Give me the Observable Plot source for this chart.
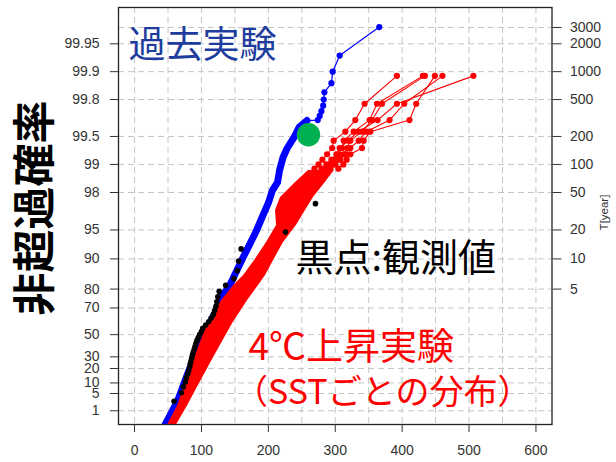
<!DOCTYPE html>
<html><head><meta charset="utf-8">
<script src="https://cdn.jsdelivr.net/npm/d3@7"></script>
<script src="https://cdn.jsdelivr.net/npm/@observablehq/plot@0.6"></script>
<style>
html,body{margin:0;padding:0;background:#fff;}
#chart svg{display:block;}
</style></head><body><div id="chart"></div>
<script>
// ---- axis ticks ----
const xTicks = [0, 100, 200, 300, 400, 500, 600];
const xGridValues = [0, 50, 100, 150, 200, 250, 300, 350, 400, 450, 500, 550, 600];
const leftTickP = [1, 5, 10, 20, 30, 50, 70, 80, 90, 95, 98, 99, 99.5, 99.8, 99.9, 99.95];
const leftTickLabels = ["1","5","10","20","30","50","70","80","90","95","98","99","99.5","99.8","99.9","99.95"];
const rightTickT = [5, 10, 20, 50, 100, 200, 500, 1000, 2000, 3000];
const rightTickLabels = ["5","10","20","50","100","200","500","1000","2000","3000"];

// ---- past experiment (blue): non-exceedance probability [%] and value ----
const blueDenseP = [0.0065, 0.181, 2.831, 16.197, 37.597, 57.574, 66.4, 75.431, 81.535, 90.099, 94.682, 97.445, 98.096, 98.438, 98.838, 99.158, 99.326, 99.487, 99.600, 99.663];
const blueDenseX = [33.3, 46.7, 64.6, 79.5, 94.4, 110.8, 119.8, 128.8, 142.1, 161.5, 180.9, 200.3, 206.0, 213.7, 216.7, 221.9, 227.9, 238.3, 245.8, 257.7];
const blueTailP = [99.667, 99.700, 99.733, 99.767, 99.800, 99.833, 99.867, 99.900, 99.933, 99.967];
const blueTailX = [273.8, 276.8, 279.3, 281.9, 282.8, 283.8, 294.3, 296.2, 306.6, 365.8];

// ---- +4K experiment (red): dense band edges ----
const redBandP  = [98.838, 98.438, 97.739, 96.890, 95.516, 93.237, 89.618, 85.287, 81.535, 74.348, 59.146, 29.445, 6.213, 1.769, 0.154, 0.0065];
const redBandLo = [260.0, 240.6, 218.2, 210.7, 212.2, 197.3, 179.4, 163.0, 148.1, 130.2, 109.3, 89.9, 72.0, 64.6, 49.7, 39.3];
const redBandHi = [298.7, 285.2, 267.4, 255.5, 241.9, 222.7, 207.8, 195.8, 185.3, 169.0, 146.6, 118.2, 91.4, 79.5, 63.1, 55.6];
// upper tails, one per SST pattern
const redTailP = [99.889, 99.778, 99.667, 99.556, 99.445, 99.334, 99.223, 99.112, 99.001, 98.890];
const redSST1 = [392.2, 343.9, 330.0, 315.1, 297.7, 295.3, 287.8, 280.8, 274.9, 268.9];
const redSST2 = [431.0, 362.4, 351.4, 327.5, 312.6, 310.2, 305.1, 298.7, 291.3, 283.8];
const redSST3 = [434.0, 369.9, 355.0, 340.0, 322.6, 317.7, 312.2, 304.7, 297.2, 289.8];
const redSST4 = [448.9, 421.0, 411.0, 352.4, 342.4, 340.0, 322.6, 317.1, 312.2, 304.7];
const redSST5 = [460.2, 403.1, 381.2, 346.5, 335.0, 322.6, 315.1, 307.7, 300.2, 292.8];
const redSST6 = [506.5, 392.2, 363.3, 334.5, 319.6, 306.6, 301.7, 294.3, 286.8, 279.3];

// ---- observations (black) ----
const obsP = [2.63, 5.26, 7.89, 10.53, 13.16, 15.79, 18.42, 21.05, 23.68, 26.32, 28.95, 31.58, 34.21, 36.84, 39.47, 42.11, 44.74, 47.37, 50.0, 52.63, 55.26, 57.89, 60.53, 63.16, 65.79, 68.42, 71.05, 73.68, 76.32, 78.95, 81.58, 84.21, 86.84, 89.47, 92.11, 94.74, 97.37];
const obsX = [59.1, 70.1, 72.8, 75.8, 77.3, 79.5, 81.0, 82.5, 83.2, 84.4, 85.5, 86.5, 87.7, 89.2, 90.4, 91.7, 93.2, 95.2, 97.4, 99.9, 101.9, 106.3, 110.8, 114.5, 117.8, 119.8, 121.7, 123.0, 124.5, 126.5, 136.2, 148.5, 153.6, 155.6, 159.3, 225.7, 270.4];

// ---- highlighted event (green) ----
const eventP = [99.52];
const eventX = [260];

// ---- helpers ----
const gumbel = p => -Math.log(-Math.log(p / 100));
const gumbelT = T => -Math.log(-Math.log(1 - 1 / T));
const rows = (ps, xs) => ps.map((p, i) => ({p, x: xs[i]}));

const blueDense = rows(blueDenseP, blueDenseX);
const blueTail = rows(blueTailP, blueTailX);
const blueTailLine = [blueDense[blueDense.length - 1], ...blueTail];
const redBand = redBandP.map((p, i) => ({p, lo: redBandLo[i], hi: redBandHi[i]}));
const redSeries = [redSST1, redSST2, redSST3, redSST4, redSST5, redSST6];
const redTail = redSeries.flatMap((xs, s) => redTailP.map((p, i) => ({p, x: xs[i], s})));
const obs = rows(obsP, obsX);
const ev = rows(eventP, eventX);

const leftG = leftTickP.map(gumbel);
const rightG = rightTickT.map(gumbelT);
const gridG = [...leftG, gumbelT(3000)];
const Y = d => gumbel(d.p);

const jp = "'Noto Sans CJK JP', sans-serif";
const axisFont = "'Liberation Sans', Arial, sans-serif";

const chart = Plot.plot({
  width: 616, height: 462,
  marginLeft: 118, marginRight: 64.5, marginTop: 7, marginBottom: 38,
  x: {domain: [-24, 624], axis: null},
  y: {domain: [-1.868, 8.503], axis: null},
  style: {fontFamily: axisFont, fontSize: "14px", background: "#fff", color: "#333"},
  marks: [
    Plot.gridX(xGridValues, {stroke: "#c4c4c4", strokeOpacity: 1, strokeDasharray: "6,4"}),
    Plot.gridY(gridG, {stroke: "#c4c4c4", strokeOpacity: 1, strokeDasharray: "6,4"}),
    // past experiment
    Plot.line(blueDense, {x: "x", y: Y, stroke: "#0000ff", strokeWidth: 7, strokeLinecap: "round", strokeLinejoin: "round", clip: true}),
    Plot.line(blueTailLine, {x: "x", y: Y, stroke: "#0000ff", strokeWidth: 1.2, clip: true}),
    Plot.dot(blueTail, {x: "x", y: Y, r: 3.1, fill: "#0000ff", stroke: null, clip: true}),
    // +4K experiment
    Plot.areaX(redBand, {y: Y, x1: "lo", x2: "hi", fill: "#ff0000", clip: true}),
    Plot.line(redTail, {x: "x", y: Y, z: "s", stroke: "#ff0000", strokeWidth: 1.1, clip: true}),
    Plot.dot(redTail, {x: "x", y: Y, r: 3.1, fill: "#ff0000", stroke: null, clip: true}),
    // observations
    Plot.dot(obs, {x: "x", y: Y, r: 2.8, fill: "#000", stroke: null}),
    // event
    Plot.dot(ev, {x: "x", y: Y, r: 11.7, fill: "#00b050", stroke: null}),
    Plot.frame({stroke: "#222", strokeWidth: 1.3}),
    // axes
    Plot.axisX(xTicks, {anchor: "bottom", tickSize: 8, tickPadding: 13, fontSize: 14, color: "#333", label: null, tickFormat: d => String(d)}),
    Plot.axisY(leftG, {anchor: "left", tickSize: 8, tickPadding: 11, fontSize: 14, color: "#333", label: null,
      tickFormat: d => leftTickLabels[leftG.indexOf(d)]}),
    Plot.axisY(rightG, {anchor: "right", tickSize: 9, tickPadding: 9, fontSize: 14, color: "#333", label: null,
      tickFormat: d => rightTickLabels[rightG.indexOf(d)]}),
    // annotations
    Plot.text(["過去実験"], {text: d => d, frameAnchor: "top-left", dx: 10, dy: 38.7, textAnchor: "start", lineAnchor: "middle", fontSize: 37, fontFamily: jp, fill: "#1f3d9e"}),
    Plot.text(["黒点:観測値"], {text: d => d, frameAnchor: "top-left", dx: 177, dy: 251.2, textAnchor: "start", lineAnchor: "middle", fontSize: 38, fontFamily: jp, fill: "#000"}),
    Plot.text(["4℃上昇実験"], {text: d => d, frameAnchor: "top-left", dx: 130, dy: 341, textAnchor: "start", lineAnchor: "middle", fontSize: 37, fontFamily: jp, fill: "#ff0000"}),
    Plot.text(["（SSTごとの分布）"], {text: d => d, frameAnchor: "top-left", dx: 115.6, dy: 386, textAnchor: "start", lineAnchor: "middle", fontSize: 34, fontFamily: jp, fill: "#ff0000"}),
    Plot.text(["非超過確率"], {text: d => d, frameAnchor: "left", dx: -82.4, dy: -8, rotate: -90, textAnchor: "middle", lineAnchor: "middle", fontSize: 43, fontWeight: "bold", fontFamily: jp, fill: "#000"}),
    Plot.text(["T[year]"], {text: d => d, frameAnchor: "right", dx: 52.5, dy: -3.5, rotate: -90, textAnchor: "middle", lineAnchor: "middle", fontSize: 11.5, fontFamily: axisFont, fill: "#333"})
  ]
});
document.getElementById("chart").appendChild(chart);
</script></body></html>
